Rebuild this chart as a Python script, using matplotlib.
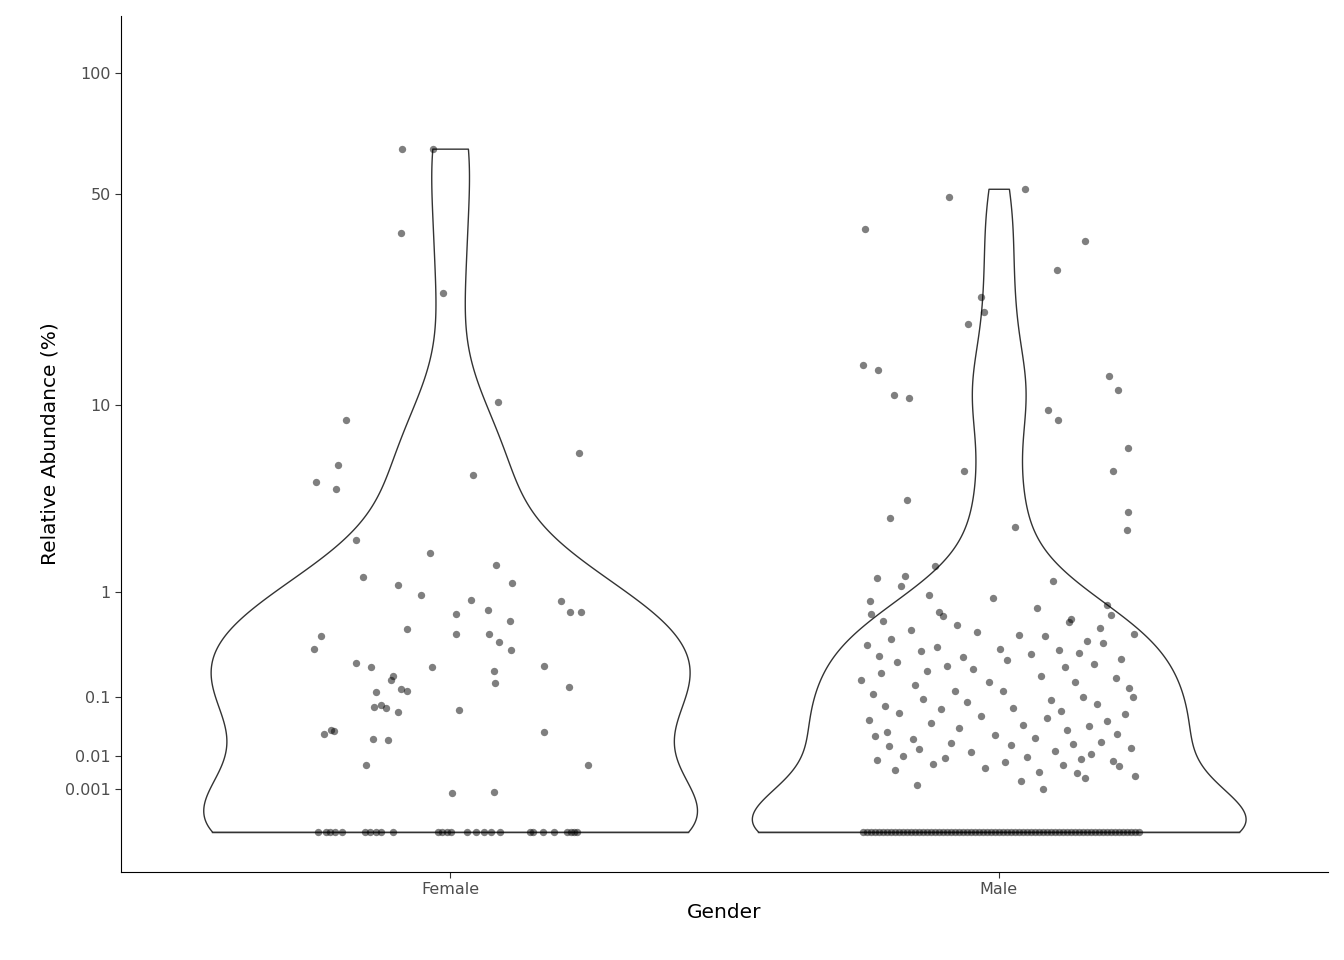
import numpy as np
import matplotlib.pyplot as plt

# values (relative abundance, %)
female_vals = [65.6, 65.6, 38.8, 25.3, 10.3, 8.69, 5.47, 4.52, 4.17, 4.9, 6.22, 2.19, 1.83,
               1.27, 1.12, 1.16, 1.53, 0.51, 0.94, 0.87, 0.68, 0.73, 0.60, 0.86, 0.70, 0.70,
               0.44, 0.34, 0.46, 0.46, 0.39, 0.33, 0.246, 0.223, 0.223, 0.203, 0.178, 0.229,
               0.161, 0.116, 0.126, 0.119, 0.149, 0.133, 0.078, 0.074, 0.067, 0.071, 0.033,
               0.028, 0.031, 0.0225, 0.0216, 0.0625, 0.030, 0.0061, 0.0061, 0.00077, 0.0007]
female_x = [401, 432, 400, 442, 497, 345, 337, 315, 335, 472, 578, 355, 429, 362, 397, 511,
            495, 406, 420, 470, 455, 487, 509, 560, 569, 580, 320, 313, 488, 455, 498, 510,
            355, 370, 431, 493, 392, 543, 390, 375, 400, 406, 494, 568, 380, 373, 458, 385,
            330, 323, 333, 372, 387, 397, 543, 587, 365, 493, 451, 586]
female_zero_x = [317, 325, 329, 334, 341, 364, 369, 375, 380, 392, 437, 441, 446, 450, 466,
                 475, 483, 490, 499, 529, 532, 542, 553, 566, 570, 573, 576]

male_vals = [39.8, 49, 51.5, 36.8, 30, 24.7, 22, 20, 14.3, 13.7, 13, 11.5, 11, 10.7, 9.56,
             8.7, 6.55, 5.12, 5.12, 3.66, 2.93, 3.16, 2.5, 2.6,
             1.5, 1.3, 1.25, 1.2, 1.1, 0.95, 0.9, 0.85, 0.8, 0.75, 0.7, 0.68, 0.66, 0.65,
             0.62, 0.6, 0.58, 0.55, 0.52, 0.5, 0.48, 0.46, 0.45, 0.44, 0.42, 0.4, 0.38, 0.37,
             0.35, 0.34, 0.33, 0.32, 0.31, 0.3, 0.29, 0.28, 0.27, 0.26, 0.25, 0.24, 0.23, 0.22,
             0.21, 0.2, 0.19, 0.18, 0.17, 0.16, 0.15, 0.15, 0.14, 0.13, 0.12, 0.12, 0.11, 0.1,
             0.1, 0.095, 0.09, 0.085, 0.08, 0.075, 0.07, 0.068, 0.065, 0.06, 0.058, 0.055, 0.05,
             0.048, 0.045, 0.042, 0.04, 0.038, 0.035, 0.033, 0.03, 0.028, 0.026, 0.025, 0.023,
             0.022, 0.02, 0.019, 0.018, 0.017, 0.016, 0.015, 0.014, 0.013, 0.012, 0.011, 0.01,
             0.0095, 0.009, 0.0085, 0.008, 0.0075, 0.007, 0.0065, 0.006, 0.0055, 0.005, 0.0045,
             0.004, 0.0035, 0.003, 0.0025, 0.002, 0.0015, 0.001]
male_x = [864, 948, 1024, 1084, 1056, 980, 983, 967, 862, 877, 1108, 1117, 893, 908, 1047,
          1057, 1127, 963, 1112, 906, 889, 1127, 1126, 1014,
          934, 904, 876, 1052, 900, 928, 992, 869, 1106, 1036, 938, 870, 1110, 942, 1070,
          882, 1068, 956, 1099, 910, 976, 1133, 1018, 1044, 890, 1086, 1102, 866, 936, 999,
          1058, 920, 1078, 1030, 878, 962, 1120, 1006, 896, 1093, 946, 1064, 972, 926, 880,
          1040, 1115, 860, 988, 1074, 914, 1128, 954, 1002, 872, 1082, 1132, 922, 1050, 966,
          1096, 884, 1012, 940, 1060, 898, 1124, 980, 1046, 868, 1106, 930, 1022, 1088, 958,
          1066, 886, 1116, 994, 874, 1034, 912, 1100, 950, 1072, 1010, 888, 1130, 918, 1054,
          970, 1090, 902, 1026, 944, 1080, 876, 1112, 1004, 932, 1062, 1118, 984, 894, 1038,
          1076, 1134, 1084, 1020, 916, 1042, 974, 906]
male_zero_x = list(range(862, 1140, 4))

cats = ["Female", "Male"]
tick_vals = [100, 50, 10, 1, 0.1, 0.01, 0.001]
tick_labels = ["100", "50", "10", "1", "0.1", "0.01", "0.001"]


def tr(v):
    return np.asarray(v, dtype=float) ** 0.25


def px_to_off(xs, c):
    return (np.asarray(xs, dtype=float) - c) / 549.0


def pair(vals, xs):
    n = min(len(vals), len(xs))
    return np.asarray(vals[:n], dtype=float), xs[:n]


fig = plt.figure(figsize=(13.44, 9.6), dpi=100)
ax = fig.add_axes([0.090, 0.0917, 0.898, 0.892])

groups = []
for pos, center, vals, xs, zx in [(1, 449, female_vals, female_x, female_zero_x),
                                  (2, 998, male_vals, male_x, male_zero_x)]:
    v, x = pair(vals, xs)
    allv = np.concatenate([v, np.zeros(len(zx))])
    offs = np.concatenate([px_to_off(x, center), px_to_off(zx, center)])
    groups.append((pos, allv, offs))

for pos, vals, offs in groups:
    t = tr(vals)
    sd = np.std(t, ddof=1)
    iqr = np.subtract(*np.percentile(t, [75, 25]))
    bw = 0.9 * min(sd, iqr / 1.34) * len(t) ** (-0.2)
    grid = np.linspace(t.min(), t.max(), 512)
    dens = np.exp(-0.5 * ((grid[:, None] - t[None, :]) / bw) ** 2).sum(axis=1)
    half = dens / dens.max() * 0.45
    ax.fill_betweenx(grid, pos - half, pos + half, facecolor="white",
                     edgecolor="#333333", linewidth=1.0, zorder=1)
    ax.plot([pos - half[0], pos + half[0]], [grid[0], grid[0]], color="#333333", lw=1.0, zorder=1)
    ax.scatter(pos + offs, t, s=28, color="black", alpha=0.5, linewidths=0, zorder=2)

ax.set_xlim(0.4, 2.6)
ax.set_ylim(-0.167, 3.40)
ax.set_xticks([1, 2])
ax.set_xticklabels(cats)
ax.set_yticks(tr(tick_vals))
ax.set_yticklabels(tick_labels)
ax.tick_params(colors="#333333", labelcolor="#4d4d4d", labelsize=11.5, length=4)
for s in ["top", "right"]:
    ax.spines[s].set_visible(False)
ax.set_xlabel("Gender", fontsize=14.5)
ax.set_ylabel("Relative Abundance (%)", fontsize=14.5)

fig.savefig("out.png", dpi=100)
